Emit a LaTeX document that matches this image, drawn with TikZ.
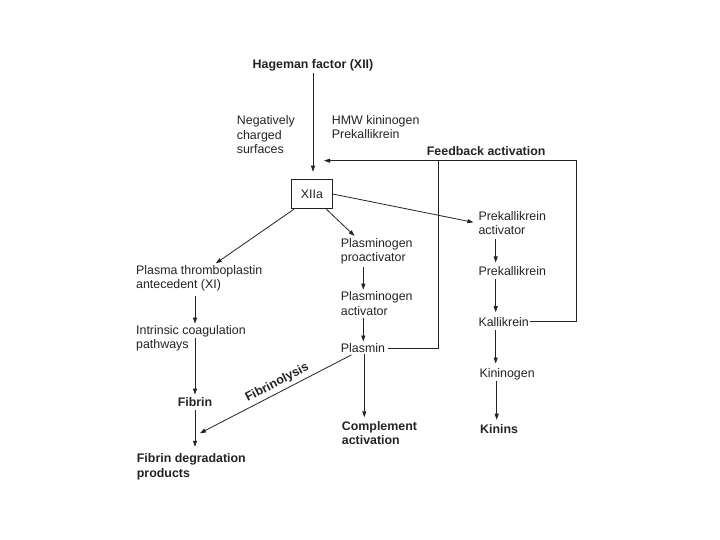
\documentclass[tikz,border=0pt]{standalone}
\usepackage{fontspec}
\setmainfont{Liberation Sans}
\usetikzlibrary{arrows.meta,calc}
\definecolor{ink}{RGB}{35,35,35}
\begin{document}
\begin{tikzpicture}[x=1pt,y=-1pt,
  every node/.style={inner sep=0pt, font=\fontsize{12.4}{14.5}\selectfont, text=ink, align=left},
  lbl/.style={anchor=west},
  bld/.style={font=\fontsize{12.4}{14.5}\selectfont\bfseries},
  arr/.style={draw=ink, line width=0.8pt, -{Triangle[length=6pt,width=4pt]}},
  ln/.style={draw=ink, line width=0.8pt},
  boxnode/.style={draw=ink, line width=0.8pt, minimum width=40.6pt, minimum height=29.7pt, align=center}]
\useasboundingbox (0,0) rectangle (720,540);

% nodes
\node[bld] (hag) at (313,65) {Hageman factor (XII)};
\node[lbl] (neg) at (236.7,135) {Negatively\\charged\\surfaces};
\node[lbl] (hmw) at (331.7,127) {HMW kininogen\\Prekallikrein};
\node[lbl,bld] (fb) at (426.7,150.7) {Feedback activation};
\node[boxnode] (xiia) at (312,194) {XIIa};
\node[lbl] (pka) at (478.3,223.3) {Prekallikrein\\activator};
\node[lbl] (prek) at (478.3,270.7) {Prekallikrein};
\node[lbl] (kal) at (478.3,321.7) {Kallikrein};
\node[lbl] (kin) at (479.3,374.3) {Kininogen};
\node[lbl,bld] (kinins) at (480,429) {Kinins};
\node[lbl] (ppa) at (340.7,251.2) {Plasminogen\\proactivator};
\node[lbl] (pa) at (340.7,303.7) {Plasminogen\\activator};
\node[lbl] (plasmin) at (340.7,348.3) {Plasmin};
\node[lbl,bld] (comp) at (341.7,433.3) {Complement\\activation};
\node[lbl] (pta) at (136,278.3) {Plasma thromboplastin\\antecedent (XI)};
\node[lbl] (icp) at (136,338.3) {Intrinsic coagulation\\pathways};
\node[bld] (fibrin) at (195,401.7) {Fibrin};
\node[lbl,bld] (fdp) at (136.7,467) {Fibrin degradation\\products};

\coordinate (fbc) at (576.7,160.7);
\coordinate (fbj) at (438.3,160.7);
\coordinate (fbt) at (hag.south |- fbc);
\coordinate (fx) at (195,435.8);

% connectors
\draw[arr, shorten <=1.5pt, shorten >=7pt] (hag.south) -- (hag.south |- xiia.north);
\draw[arr, shorten >=5pt] (xiia.east) -- (pka.west);
\draw[arr, shorten >=3pt] ([xshift=2.6pt]xiia.south west) -- ([xshift=77.3pt]pta.north west);
\draw[arr, shorten >=3pt] ([xshift=-6.3pt]xiia.south east) -- ([xshift=16pt]ppa.north west);
\draw[arr, shorten <=3pt, shorten >=2pt] ([xshift=22.6pt]ppa.south west) -- ([xshift=22.6pt]pa.north west);
\draw[arr, shorten <=2pt, shorten >=2pt] ([xshift=22.6pt]pa.south west) -- ([xshift=22.6pt]plasmin.north west);
\draw[arr, shorten <=1pt, shorten >=4pt] ([xshift=23.6pt]plasmin.south west) -- ([xshift=22.6pt]comp.north west);
\draw[arr, shorten <=4pt, shorten >=5.5pt] ([xshift=14.3pt]plasmin.south west) -- node[pos=0.46, sloped, above=3pt, bld] (fibl) {Fibrinolysis} (fx);
\draw[arr, shorten <=4pt, shorten >=1.5pt] ([xshift=59pt]pta.south west) -- ([xshift=59pt]icp.north west);
\draw[arr, shorten >=2.4pt] ([xshift=59pt]icp.west) -- (fibrin.north);
\draw[arr, shorten <=4pt, shorten >=7pt] (fibrin.south) -- (fibrin.south |- fdp.north);

\draw[arr, shorten <=4pt, shorten >=3.5pt] ([xshift=17.4pt]pka.south west) -- ([xshift=17.4pt]prek.north west);
\draw[arr, shorten <=4pt, shorten >=4.7pt] ([xshift=17.4pt]prek.south west) -- ([xshift=17.4pt]kal.north west);
\draw[arr, shorten <=4pt, shorten >=4.8pt] ([xshift=17.4pt]kal.south west) -- ([xshift=16.4pt]kin.north west);
\draw[arr, shorten <=0.7pt, shorten >=4.5pt] ([xshift=17.4pt]kin.south west) -- ([xshift=16.7pt]kinins.north west);

\draw[arr, shorten >=11pt] ([xshift=1pt]kal.east) -| (fbc) -- (fbt);
\draw[ln] ([xshift=3pt]plasmin.east) -| (fbj);
\end{tikzpicture}
\end{document}
